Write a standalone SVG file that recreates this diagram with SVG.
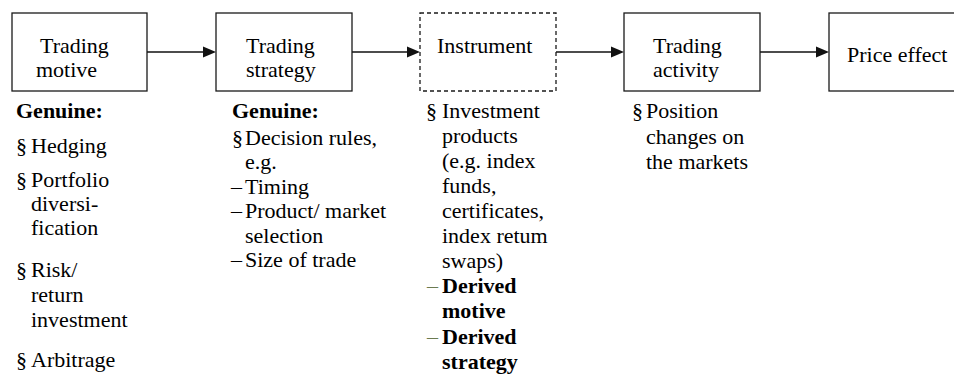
<svg xmlns="http://www.w3.org/2000/svg" width="954" height="387" viewBox="0 0 954 387">
<style>
.box{fill:#fff;stroke:#1a1a1a;stroke-width:1.3}
.dash{stroke-dasharray:4 3}
.conn{stroke:#111;stroke-width:1.5;fill:none}
.head{fill:#111;stroke:none}
svg text, g text, text{font-family:'Liberation Serif','Times New Roman',Tinos,serif !important;font-size:22px !important;font-style:normal}
text.b{font-weight:bold !important}
text.r{font-weight:normal !important}
text.g{fill:#6b7a50}
</style>
<rect width="954" height="387" fill="#fff"/>

<g id="connectors">
<line class="conn" x1="147" y1="52" x2="204" y2="52"/>
<polygon class="head" points="203,46.5 216,52 203,57.5"/>
<line class="conn" x1="352" y1="52" x2="408" y2="52"/>
<polygon class="head" points="407,46.5 420,52 407,57.5"/>
<line class="conn" x1="556" y1="52" x2="612" y2="52"/>
<polygon class="head" points="611,46.5 624,52 611,57.5"/>
<line class="conn" x1="760" y1="52" x2="817" y2="52"/>
<polygon class="head" points="816,46.5 829,52 816,57.5"/>
</g>

<g id="node-motive">
<rect class="box" x="12" y="13" width="135" height="78"/>
<text class="r" style="font-family:'Liberation Serif',serif !important" x="40" y="53">Trading</text>
<text class="r" style="font-family:'Liberation Serif',serif !important" x="36" y="77">motive</text>
</g>
<g id="node-strategy">
<rect class="box" x="216" y="13" width="136" height="78"/>
<text class="r" style="font-family:'Liberation Serif',serif !important" x="246" y="53">Trading</text>
<text class="r" style="font-family:'Liberation Serif',serif !important" x="246" y="77">strategy</text>
</g>
<g id="node-instrument">
<rect class="box dash" x="420" y="13" width="136" height="78"/>
<text class="r" style="font-family:'Liberation Serif',serif !important" x="437" y="53">Instrument</text>
</g>
<g id="node-activity">
<rect class="box" x="624" y="13" width="136" height="78"/>
<text class="r" style="font-family:'Liberation Serif',serif !important" x="653" y="53">Trading</text>
<text class="r" style="font-family:'Liberation Serif',serif !important" x="653" y="77">activity</text>
</g>
<g id="node-price">
<rect class="box" x="829" y="13" width="140" height="78"/>
<text class="r" style="font-family:'Liberation Serif',serif !important" x="847" y="62">Price effect</text>
</g>

<g id="list-motive">
<text class="b" x="16" y="118">Genuine:</text>
<text class="r" style="font-family:'Liberation Serif',serif !important" x="16" y="153">&#167;</text><text class="r" style="font-family:'Liberation Serif',serif !important" x="31" y="153">Hedging</text>
<text class="r" style="font-family:'Liberation Serif',serif !important" x="16" y="187">&#167;</text><text class="r" style="font-family:'Liberation Serif',serif !important" x="31" y="187">Portfolio</text>
<text class="r" style="font-family:'Liberation Serif',serif !important" x="31" y="211">diversi-</text>
<text class="r" style="font-family:'Liberation Serif',serif !important" x="31" y="235">fication</text>
<text class="r" style="font-family:'Liberation Serif',serif !important" x="16" y="277">&#167;</text><text class="r" style="font-family:'Liberation Serif',serif !important" x="31" y="277">Risk/</text>
<text class="r" style="font-family:'Liberation Serif',serif !important" x="31" y="302">return</text>
<text class="r" style="font-family:'Liberation Serif',serif !important" x="31" y="327">investment</text>
<text class="r" style="font-family:'Liberation Serif',serif !important" x="16" y="367">&#167;</text><text class="r" style="font-family:'Liberation Serif',serif !important" x="31" y="367">Arbitrage</text>
</g>

<g id="list-strategy">
<text class="b" x="232" y="118">Genuine:</text>
<text class="r" style="font-family:'Liberation Serif',serif !important" x="232" y="145">&#167;</text><text class="r" style="font-family:'Liberation Serif',serif !important" x="245" y="145">Decision rules,</text>
<text class="r" style="font-family:'Liberation Serif',serif !important" x="245" y="169">e.g.</text>
<text class="r" style="font-family:'Liberation Serif',serif !important" x="231" y="194">&#8211;</text><text class="r" style="font-family:'Liberation Serif',serif !important" x="245" y="194">Timing</text>
<text class="r" style="font-family:'Liberation Serif',serif !important" x="231" y="218">&#8211;</text><text class="r" style="font-family:'Liberation Serif',serif !important" x="245" y="218">Product/ market</text>
<text class="r" style="font-family:'Liberation Serif',serif !important" x="245" y="243">selection</text>
<text class="r" style="font-family:'Liberation Serif',serif !important" x="231" y="267">&#8211;</text><text class="r" style="font-family:'Liberation Serif',serif !important" x="245" y="267">Size of trade</text>
</g>

<g id="list-instrument">
<text class="r" style="font-family:'Liberation Serif',serif !important" x="426" y="118">&#167;</text><text class="r" style="font-family:'Liberation Serif',serif !important" x="442" y="118">Investment</text>
<text class="r" style="font-family:'Liberation Serif',serif !important" x="442" y="143">products</text>
<text class="r" style="font-family:'Liberation Serif',serif !important" x="442" y="168">(e.g. index</text>
<text class="r" style="font-family:'Liberation Serif',serif !important" x="442" y="193">funds,</text>
<text class="r" style="font-family:'Liberation Serif',serif !important" x="442" y="218">certificates,</text>
<text class="r" style="font-family:'Liberation Serif',serif !important" x="442" y="243">index retum</text>
<text class="r" style="font-family:'Liberation Serif',serif !important" x="442" y="268">swaps)</text>
<text class="r g" style="font-family:'Liberation Serif',serif !important" x="427" y="293">&#8211;</text><text class="b" x="442" y="293">Derived</text>
<text class="b" x="442" y="318">motive</text>
<text class="r g" style="font-family:'Liberation Serif',serif !important" x="427" y="344">&#8211;</text><text class="b" x="442" y="344">Derived</text>
<text class="b" x="442" y="369">strategy</text>
</g>

<g id="list-activity">
<text class="r" style="font-family:'Liberation Serif',serif !important" x="632" y="118">&#167;</text><text class="r" style="font-family:'Liberation Serif',serif !important" x="646" y="118">Position</text>
<text class="r" style="font-family:'Liberation Serif',serif !important" x="646" y="144">changes on</text>
<text class="r" style="font-family:'Liberation Serif',serif !important" x="646" y="169">the markets</text>
</g>
</svg>
